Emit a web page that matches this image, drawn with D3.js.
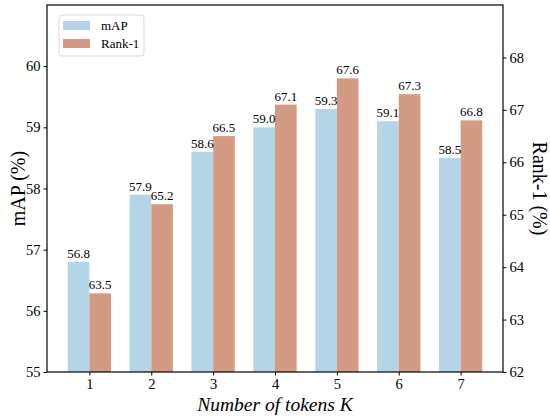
<!DOCTYPE html>
<html>
<head>
<meta charset="utf-8">
<script src="https://cdn.jsdelivr.net/npm/d3@7"></script>
<style>
  body { margin: 0; background: #fff; }
  svg text { font-family: "Liberation Serif", "DejaVu Serif", serif !important; fill: #000; }
</style>
</head>
<body>
<div id="chart"></div>
<script>
// Data
const tokens = [1, 2, 3, 4, 5, 6, 7];
const mapValues = [56.8, 57.9, 58.6, 59.0, 59.3, 59.1, 58.5];
const rankValues = [63.5, 65.2, 66.5, 67.1, 67.6, 67.3, 66.8];
const leftTicks = [55, 56, 57, 58, 59, 60];
const rightTicks = [62, 63, 64, 65, 66, 67, 68];

const mapColor = '#b4d4e7';
const rankColor = '#d49b84';

const W = 550, H = 418;
const margin = { top: 5, right: 47, bottom: 46, left: 47 };
const width = W - margin.left - margin.right;
const height = H - margin.top - margin.bottom;

const svg = d3.select('#chart').append('svg')
    .attr('width', W)
    .attr('height', H);

const g = svg.append('g')
    .attr('transform', `translate(${margin.left},${margin.top})`);

const barW = 0.35;
const xScale = d3.scaleLinear()
    .domain([0.315, 7.685])
    .range([0, width]);

const yLeft = d3.scaleLinear().domain([55, 61]).range([height, 0]);
const yRight = d3.scaleLinear().domain([62, 69]).range([height, 0]);

const bw = xScale(barW) - xScale(0);

// mAP bars
g.selectAll('.map-bar')
    .data(tokens)
    .enter()
    .append('rect')
    .attr('class', 'map-bar')
    .attr('x', d => xScale(d - barW))
    .attr('y', (d, i) => yLeft(mapValues[i]))
    .attr('width', bw)
    .attr('height', (d, i) => height - yLeft(mapValues[i]))
    .attr('fill', mapColor);

// Rank-1 bars
g.selectAll('.rank-bar')
    .data(tokens)
    .enter()
    .append('rect')
    .attr('class', 'rank-bar')
    .attr('x', d => xScale(d))
    .attr('y', (d, i) => yRight(rankValues[i]))
    .attr('width', bw)
    .attr('height', (d, i) => height - yRight(rankValues[i]))
    .attr('fill', rankColor);

// Value labels
g.selectAll('.map-label')
    .data(tokens)
    .enter()
    .append('text')
    .attr('x', d => xScale(d - barW / 2))
    .attr('y', (d, i) => yLeft(mapValues[i]) - 4)
    .attr('text-anchor', 'middle')
    .style('font-size', '13px')
    .text((d, i) => mapValues[i].toFixed(1));

g.selectAll('.rank-label')
    .data(tokens)
    .enter()
    .append('text')
    .attr('x', d => xScale(d + barW / 2))
    .attr('y', (d, i) => yRight(rankValues[i]) - 4)
    .attr('text-anchor', 'middle')
    .style('font-size', '13px')
    .text((d, i) => rankValues[i].toFixed(1));

// Axes
function styleAxis(sel) {
    sel.attr('font-family', null);
    sel.selectAll('path.domain').remove();
    sel.selectAll('line').attr('stroke', '#000').attr('stroke-width', 1);
    sel.selectAll('text').style('font-size', '14.5px').attr('fill', '#000');
}

g.append('g')
    .attr('transform', `translate(0,${height})`)
    .call(d3.axisBottom(xScale).tickValues(tokens).tickFormat(d3.format('d')).tickSize(3.5).tickPadding(3))
    .call(styleAxis);

g.append('g')
    .call(d3.axisLeft(yLeft).tickValues(leftTicks).tickFormat(d3.format('d')).tickSize(3.5).tickPadding(3))
    .call(styleAxis);

g.append('g')
    .attr('transform', `translate(${width},0)`)
    .call(d3.axisRight(yRight).tickValues(rightTicks).tickFormat(d3.format('d')).tickSize(3.5).tickPadding(3))
    .call(styleAxis);

// Frame
g.append('rect')
    .attr('width', width)
    .attr('height', height)
    .attr('fill', 'none')
    .attr('stroke', '#000')
    .attr('stroke-width', 1.2);

// Axis labels
g.append('text')
    .attr('transform', `translate(${-22},${height / 2}) rotate(-90)`)
    .attr('text-anchor', 'middle')
    .style('font-size', '20px')
    .text('mAP (%)');

g.append('text')
    .attr('transform', `translate(${width + 37},${height / 2}) rotate(90)`)
    .attr('text-anchor', 'middle')
    .attr('dy', '0.35em')
    .style('font-size', '20px')
    .text('Rank-1 (%)');

g.append('text')
    .attr('x', width / 2)
    .attr('y', height + 39)
    .attr('text-anchor', 'middle')
    .style('font-size', '19.5px')
    .style('font-style', 'italic')
    .text('Number of tokens K');

// Legend
const legend = g.append('g')
    .attr('transform', 'translate(12,10)');

legend.append('rect')
    .attr('width', 85)
    .attr('height', 41)
    .attr('rx', 3)
    .attr('fill', '#fff')
    .attr('stroke', '#d9d9d9');

const legendItems = [
    { label: 'mAP', color: mapColor },
    { label: 'Rank-1', color: rankColor }
];

legendItems.forEach((item, i) => {
    const row = legend.append('g')
        .attr('transform', `translate(4, ${6 + i * 18})`);
    row.append('rect')
        .attr('width', 27)
        .attr('height', 9)
        .attr('fill', item.color);
    row.append('text')
        .attr('x', 38)
        .attr('y', 9)
        .style('font-size', '13px')
        .text(item.label);
});
</script>
</body>
</html>
